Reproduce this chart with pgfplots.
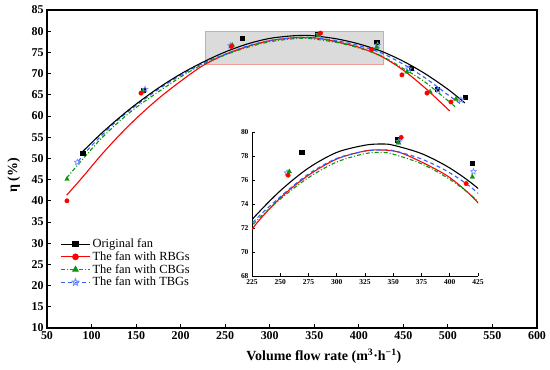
\documentclass[border=0pt]{standalone}
\usepackage{fontspec}
\setmainfont{Liberation Serif}
\usepackage{pgfplots}
\usepackage{pgfplotstable}
\pgfplotsset{compat=1.18}
\definecolor{cred}{RGB}{255,0,0}
\definecolor{cgreen}{RGB}{10,150,10}
\definecolor{cblue}{RGB}{50,95,255}
\definecolor{cstar}{RGB}{120,145,255}
\definecolor{boxfill}{RGB}{219,219,219}
\definecolor{boxedge}{RGB}{242,155,155}

\pgfdeclareplotmark{ostar}{%
  \pgfpathmoveto{\pgfpointpolar{90}{\pgfplotmarksize}}%
  \pgfpathlineto{\pgfpointpolar{126}{0.45\pgfplotmarksize}}%
  \pgfpathlineto{\pgfpointpolar{162}{\pgfplotmarksize}}%
  \pgfpathlineto{\pgfpointpolar{198}{0.45\pgfplotmarksize}}%
  \pgfpathlineto{\pgfpointpolar{234}{\pgfplotmarksize}}%
  \pgfpathlineto{\pgfpointpolar{270}{0.45\pgfplotmarksize}}%
  \pgfpathlineto{\pgfpointpolar{306}{\pgfplotmarksize}}%
  \pgfpathlineto{\pgfpointpolar{342}{0.45\pgfplotmarksize}}%
  \pgfpathlineto{\pgfpointpolar{18}{\pgfplotmarksize}}%
  \pgfpathlineto{\pgfpointpolar{54}{0.45\pgfplotmarksize}}%
  \pgfpathclose\pgfusepathqstroke}

% fitted curves
\pgfplotstableread{
x y
90 51.6
110 55.7
130 59.4
150 62.8
175 66.6
200 69.9
225 72.7
250 75.1
275 77.0
300 78.3
325 78.9
340 79.0
350 78.9
375 78.2
400 77.0
425 75.3
450 72.9
475 69.9
500 66.3
519 63.1
}\tabCurveK
\pgfplotstableread{
x y
72 41.3
90 45.6
110 50.6
130 55.2
150 59.4
175 64.1
200 68.2
225 71.9
250 74.5
275 76.4
300 77.75
325 78.42
340 78.5
355 78.32
375 77.5
400 76.2
425 74.1
450 70.8
475 66.5
502 61.2
}\tabCurveR
\pgfplotstableread{
x y
72 45.4
90 49.8
110 54.5
130 58.5
150 62.0
175 65.7
200 69.2
225 72.2
250 74.4
275 76.2
300 77.5
325 78.2
340 78.3
350 78.15
375 77.35
400 76.05
425 74.2
450 71.2
475 67.9
508 62.2
}\tabCurveG
\pgfplotstableread{
x y
85 49.3
100 53.0
125 58.2
150 62.5
175 66.3
200 69.6
225 72.4
250 74.6
275 76.5
300 77.8
325 78.4
340 78.5
350 78.45
375 77.75
400 76.6
425 74.9
450 72.2
475 68.9
500 65.0
516 62.6
}\tabCurveB
% measured points
\pgfplotstableread{
x y
90 51.3
158 66.0
269 78.3
353.5 79.35
420 77.4
458.5 71.3
488 66.4
519 64.5
}\tabPtK
\pgfplotstableread{
x y
72.4 40.0
155.5 65.4
257 76.4
357 79.55
414.5 75.7
448.4 69.7
476.5 65.4
503.4 63.3
}\tabPtR
\pgfplotstableread{
x y
72.5 45.1
157 65.7
258 76.7
354.5 79.1
420 76.25
454 70.4
480 65.7
509 64.0
}\tabPtG
\pgfplotstableread{
x y
84 49.1
160 66.3
256 76.6
355 79.2
421 76.7
456 71.1
489 66.1
514.6 63.8
}\tabPtB

\begin{document}
\begin{tikzpicture}
\useasboundingbox (-47bp,-42bp) rectangle (503bp,328bp);
\begin{axis}[
  scale only axis, width=490bp, height=318bp,
  xmin=50, xmax=600, ymin=10, ymax=85,
  xtick={50,100,...,600}, ytick={10,15,...,85},
  tick pos=left, tick align=inside, major tick length=4bp,
  tick style={black, line width=0.9bp},
  axis line style={line width=1.1bp},
  /pgf/number format/assume math mode=true,
  ticklabel style={font=\fontsize{12}{13}\selectfont\bfseries},
  xlabel={Volume flow rate (m\textsuperscript{3}·h\textsuperscript{−1})},
  ylabel={η (\%)},
  label style={font=\fontsize{14}{16}\selectfont\bfseries},
  x label style={at={(axis description cs:0.565,-0.09)}, anchor=center},
  y label style={at={(axis description cs:-0.068,0.48)}, anchor=center},
  legend cell align=left,
  legend style={draw=none, fill=none, at={(0.025,0.29)}, anchor=north west,
    font=\fontsize{12.5}{13}\selectfont, row sep=-1.5bp, inner sep=1bp},
  legend image code/.code={\draw[mark repeat=2,mark phase=2,#1] plot coordinates {(0bp,0bp)(14.5bp,0bp)(29bp,0bp)};},
]
\draw[fill=boxfill, draw=boxedge, line width=1.2bp] (axis cs:228,72.2) rectangle (axis cs:428,80);
\addplot[forget plot, cred, line width=1.1bp, smooth, no marks] table {\tabCurveR};
\addplot[forget plot, cgreen, line width=1.1bp, smooth, no marks, dash pattern=on 4bp off 2bp on 1bp off 2bp] table {\tabCurveG};
\addplot[forget plot, cblue, line width=1.1bp, smooth, no marks, dash pattern=on 4bp off 3bp] table {\tabCurveB};
\addplot[forget plot, black, line width=1.1bp, smooth, no marks] table {\tabCurveK};
\addplot[forget plot, only marks, mark=square*, mark size=2.1bp, black] table {\tabPtK};
\addplot[forget plot, only marks, mark=ostar, mark size=3bp, cstar, line width=0.7bp] table {\tabPtB};
\addplot[forget plot, only marks, mark=triangle*, mark size=2.6bp, cgreen] table {\tabPtG};
\addplot[forget plot, only marks, mark=*, mark size=2.2bp, cred] table {\tabPtR};
\addlegendimage{black, line width=1.1bp, mark=square*, mark size=2.5bp}
\addlegendentry{Original fan}
\addlegendimage{cred, line width=1.1bp, mark=*, mark size=2.8bp}
\addlegendentry{The fan with RBGs}
\addlegendimage{cgreen, line width=1.1bp, dash pattern=on 4bp off 2bp on 1bp off 2bp, mark=triangle*, mark size=3bp, mark options={solid}}
\addlegendentry{The fan with CBGs}
\addlegendimage{cblue, line width=1.1bp, dash pattern=on 4bp off 3bp, mark=ostar, mark size=3.5bp, mark options={solid, cstar}}
\addlegendentry{The fan with TBGs}
\end{axis}
\begin{axis}[
  at={(205bp,52bp)}, anchor=south west,
  scale only axis, width=226bp, height=144bp,
  xmin=225, xmax=425, ymin=68, ymax=80,
  xtick={225,250,...,425}, ytick={68,70,...,80},
  axis x line*=bottom, axis y line*=left,
  tick align=inside, major tick length=3bp,
  tick style={black, line width=0.6bp},
  axis line style={line width=0.8bp},
  /pgf/number format/assume math mode=true,
  ticklabel style={font=\fontsize{7.5}{9}\selectfont\bfseries},
  clip=true,
]
\addplot[cred, line width=1.1bp, smooth, no marks] table {\tabCurveR};
\addplot[cgreen, line width=1.1bp, smooth, no marks, dash pattern=on 4bp off 2bp on 1bp off 2bp] table {\tabCurveG};
\addplot[cblue, line width=1.1bp, smooth, no marks, dash pattern=on 4bp off 3bp] table {\tabCurveB};
\addplot[black, line width=1.1bp, smooth, no marks] table {\tabCurveK};
\addplot[only marks, mark=square*, mark size=2.1bp, black] table {\tabPtK};
\addplot[only marks, mark=ostar, mark size=3bp, cstar, line width=0.7bp] table {\tabPtB};
\addplot[only marks, mark=triangle*, mark size=2.6bp, cgreen] table {\tabPtG};
\addplot[only marks, mark=*, mark size=2.2bp, cred] table {\tabPtR};
\end{axis}
\end{tikzpicture}
\end{document}
